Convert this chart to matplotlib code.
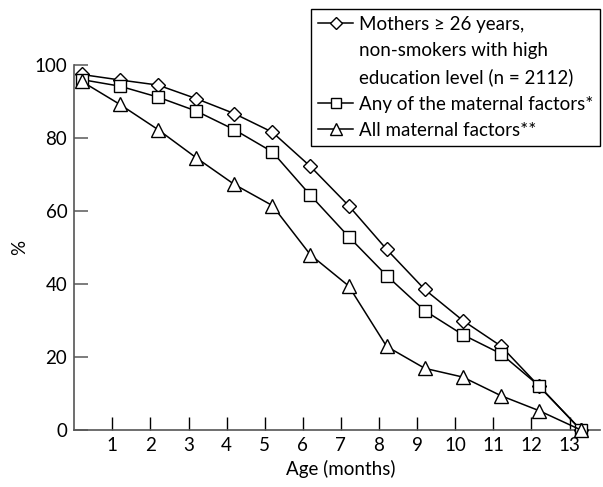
import matplotlib
matplotlib.use('Agg')
import matplotlib.pyplot as plt
from matplotlib.lines import Line2D

plt.rcParams['font.family'] = ['Lato', 'DejaVu Sans']

# ages at which points are plotted (months), last point is where all curves hit 0
ages = [0.2, 1.2, 2.2, 3.2, 4.2, 5.2, 6.2, 7.2, 8.2, 9.2, 10.2, 11.2, 12.2, 13.3]
mothers_high = [97.4, 95.9, 94.5, 90.8, 86.7, 81.6, 72.2, 61.5, 49.5, 38.5, 30.0, 23.0, 12.0, 0]
any_factor = [96.0, 94.2, 91.2, 87.4, 82.3, 76.2, 64.3, 53.0, 42.3, 32.7, 26.1, 20.9, 12.1, 0]
all_factors = [95.5, 89.2, 82.3, 74.6, 67.3, 61.5, 48.0, 39.5, 22.9, 16.9, 14.5, 9.4, 5.3, 0]

label_lines = ['Mothers \u2265 26 years,', 'non-smokers with high', 'education level (n = 2112)']
labels = ['\n'.join(label_lines), 'Any of the maternal factors*', 'All maternal factors**']
xticks = list(range(1, 14))
yticks = [0, 20, 40, 60, 80, 100]

fs = 13.5
fig = plt.figure(figsize=(6.03, 4.87), dpi=100)
ax = fig.add_axes([74.2/603, 1-430/487, (600-74.2)/603, (430-65)/487])

mk = dict(color='black', lw=1.1, markerfacecolor='white', markeredgecolor='black', mew=1.0, clip_on=False, zorder=3)
h1, = ax.plot(ages, mothers_high, marker='D', ms=7.5, **mk)
h2, = ax.plot(ages, any_factor, marker='s', ms=8.5, **mk)
h3, = ax.plot(ages, all_factors, marker='^', ms=10, **mk)

ax.set_xlim(0, 13.8)
ax.set_ylim(0, 100)
ax.set_xticks(xticks)
ax.set_yticks(yticks)
ax.spines['top'].set_visible(False)
ax.spines['right'].set_visible(False)
ax.spines['left'].set_color('#555555')
ax.spines['bottom'].set_color('#555555')
ax.spines['left'].set_linewidth(1.2)
ax.spines['bottom'].set_linewidth(1.2)
ax.tick_params(axis='x', direction='in', length=9.5, width=1.0, color='black', labelsize=fs, pad=5)
ax.tick_params(axis='y', direction='in', length=10, width=1.2, color='#666666', labelsize=fs, pad=5)
ax.set_xlabel('Age (months)', fontsize=fs)
ax.set_ylabel('%', fontsize=fs)
ax.xaxis.set_label_coords(0.507, -0.083)
ax.yaxis.set_label_coords(-0.088, 0.5)

# first legend entry split over three rows so the marker sits on the first line
blank = Line2D([], [], color='none')
handles = [h1, blank, blank, h2, h3]
texts = label_lines + labels[1:]
leg = ax.legend(handles, texts, loc='upper right', bbox_to_anchor=(600/603, 1-9/487),
                bbox_transform=fig.transFigure,
                fontsize=fs, frameon=True, fancybox=False, edgecolor='black', framealpha=1,
                handlelength=1.9, handletextpad=0.3, borderpad=0.35, labelspacing=0.5,
                borderaxespad=0, markerscale=0.8)
leg.get_frame().set_linewidth(1.0)

fig.savefig('out.png', dpi=100)
